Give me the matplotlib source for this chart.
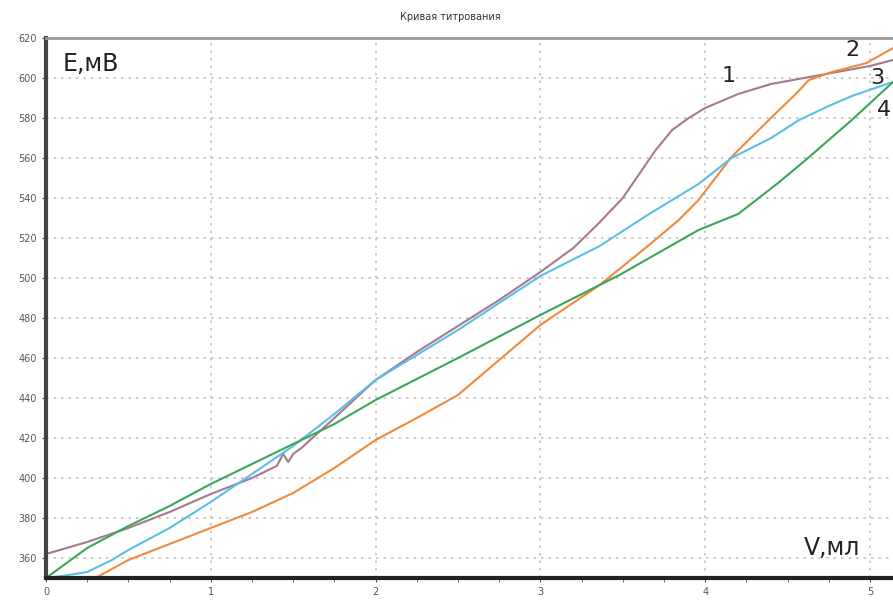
import matplotlib
matplotlib.use('Agg')
import matplotlib.pyplot as plt
from matplotlib.ticker import MultipleLocator

# curve 1 (brown)
x1 = [0, 0.25, 0.5, 0.75, 1.0, 1.25, 1.4, 1.44, 1.47, 1.5, 1.55, 1.75, 2.0, 2.25, 2.5,
      2.75, 3.0, 3.2, 3.35, 3.5, 3.6, 3.7, 3.8, 3.9, 4.0, 4.2, 4.4, 4.6, 4.8, 5.0, 5.14]
y1 = [362, 368, 375, 383, 392, 400, 406, 412, 408, 412, 415, 430, 449, 463, 476,
      489, 503, 515, 527, 540, 552, 564, 574, 580, 585, 592, 597, 600, 603, 606, 609]

# curve 2 (orange)
x2 = [0.3, 0.5, 0.75, 1.0, 1.25, 1.5, 1.75, 2.0, 2.25, 2.5, 2.75, 3.0, 3.36, 3.66,
      3.84, 3.96, 4.16, 4.3, 4.43, 4.55, 4.63, 4.77, 4.98, 5.14]
y2 = [350, 359, 367, 375, 383, 392.5, 405, 419, 430, 441.5, 459, 476.5, 496.5, 516.5,
      529, 539, 560.5, 572, 582.5, 592, 599, 603, 607.5, 615]

# curve 3 (blue)
x3 = [0, 0.1, 0.25, 0.4, 0.5, 0.75, 1.0, 1.25, 1.5, 1.75, 2.0, 2.5, 3.0, 3.36, 3.66,
      3.96, 4.16, 4.4, 4.57, 4.75, 4.89, 5.14]
y3 = [350, 351, 353, 359, 364, 375, 388, 402, 416, 432, 449, 474, 501, 516, 532,
      547, 560, 570, 579, 586, 591, 598]

# curve 4 (green)
x4 = [0, 0.1, 0.25, 0.5, 0.75, 1.0, 1.25, 1.5, 1.75, 2.0, 2.5, 3.0, 3.48, 3.96, 4.2,
      4.31, 4.45, 4.61, 4.75, 4.89, 5.14]
y4 = [350, 356, 365, 376, 386, 397, 407, 417, 427, 439, 460, 481.5, 501.5, 524, 532,
      539, 548, 559, 569, 579, 598]

yticks = list(range(360, 621, 20))
xticks = [0, 1, 2, 3, 4, 5]

fig = plt.figure(figsize=(8.93, 6.05), dpi=100)
ax = fig.add_axes([46 / 893, 27 / 605, 1 - 46 / 893, 540 / 605])

ax.plot(x1, y1, color='#a67a8c', lw=1.5)
ax.plot(x2, y2, color='#f08a3c', lw=1.5)
ax.plot(x3, y3, color='#5cbde8', lw=1.5)
ax.plot(x4, y4, color='#3aa65a', lw=1.5)

ax.set_xlim(0, 5.14)
ax.set_ylim(350, 620)
ax.set_xticks(xticks)
ax.set_yticks(yticks)
ax.xaxis.set_minor_locator(MultipleLocator(0.25))
ax.grid(True, which='major', color='#c4c4c4', linestyle=(0, (1.5, 3)), lw=1.2)
ax.tick_params(labelsize=7, colors='#555555', length=3)
ax.tick_params(axis='x', which='minor', length=3, color='#555555')

ax.spines['left'].set_linewidth(3)
ax.spines['left'].set_color('#444444')
ax.spines['bottom'].set_linewidth(3)
ax.spines['bottom'].set_color('#222222')
ax.spines['top'].set_linewidth(2)
ax.spines['top'].set_color('#999999')
ax.spines['right'].set_visible(False)

fig.text(450 / 893, 1 - 17 / 605, 'Кривая титрования', fontsize=7,
         color='#333333', ha='center', va='center')

ax.text(0.1, 607, 'E,мВ', fontsize=17, color='#222222', va='center')
ax.text(4.6, 365, 'V,мл', fontsize=17, color='#222222', va='center')
ax.text(4.1, 601, '1', fontsize=16, color='#222222', va='center')
ax.text(4.85, 614, '2', fontsize=16, color='#222222', va='center')
ax.text(5.0, 600, '3', fontsize=16, color='#222222', va='center')
ax.text(5.04, 584, '4', fontsize=16, color='#222222', va='center')

fig.savefig('out.png', dpi=100)
